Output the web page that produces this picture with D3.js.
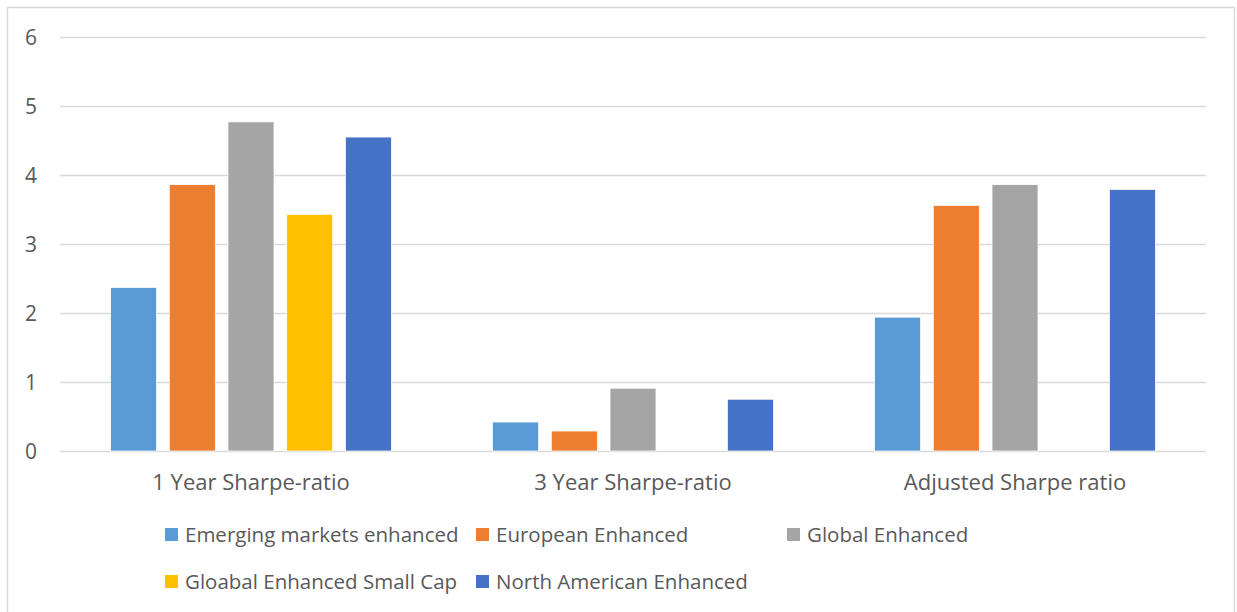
<!DOCTYPE html>
<html>
<head>
<meta charset="utf-8">
<script src="https://cdn.jsdelivr.net/npm/d3@7"></script>
<style>
  html, body { margin: 0; padding: 0; background: #fff; }
  svg { display: block; }
  text { font-family: "Open Sans", Lato, sans-serif; fill: #595959; }
</style>
</head>
<body>
<svg id="chart" width="1237" height="612"></svg>
<script>
// Sharpe-ratio comparison of enhanced index funds
const categories = ["1 Year Sharpe-ratio", "3 Year Sharpe-ratio", "Adjusted Sharpe ratio"];
const seriesNames = [
  "Emerging markets enhanced",
  "European Enhanced",
  "Global Enhanced",
  "Gloabal Enhanced Small Cap",
  "North American Enhanced"
];
const emergingValues   = [2.37, 0.42, 1.94];
const europeanValues   = [3.86, 0.29, 3.56];
const globalValues     = [4.77, 0.91, 3.86];
const smallCapValues   = [3.43, null, null];
const northAmValues    = [4.55, 0.75, 3.79];
const yTicks = [0, 1, 2, 3, 4, 5, 6];
const colors = ["#5B9BD5", "#ED7D31", "#A5A5A5", "#FFC000", "#4472C4"];

const seriesValues = [emergingValues, europeanValues, globalValues, smallCapValues, northAmValues];

const svg = d3.select("#chart");

// outer chart frame
svg.append("rect")
  .attr("x", 7.5).attr("y", 7.5)
  .attr("width", 1227).attr("height", 640)
  .attr("fill", "#fff")
  .attr("stroke", "#D9D9D9").attr("stroke-width", 1.5);

const plot = { left: 60, right: 1206, top: 37, bottom: 451 };

const y = d3.scaleLinear().domain([0, 6]).range([plot.bottom, plot.top]);
const x0 = d3.scaleBand().domain(categories).range([plot.left, plot.right]).padding(0);
const x1 = d3.scaleBand().domain(seriesNames).range([0, x0.bandwidth()])
  .paddingInner(0.216).paddingOuter(0.862);

// horizontal gridlines and value labels
const yAxis = d3.axisLeft(y).tickValues(yTicks).tickSize(-(plot.right - plot.left)).tickPadding(23)
  .tickFormat(d3.format("d"));
const gy = svg.append("g").attr("transform", `translate(${plot.left},0)`).call(yAxis);
gy.select(".domain").remove();
gy.selectAll(".tick line").attr("stroke", "#D9D9D9").attr("stroke-width", 1.5);
gy.selectAll(".tick text")
  .attr("fill", "#595959").style("font-size", "21px")
  .attr("dy", "0.36em");

// bars
const groups = svg.append("g").selectAll("g")
  .data(categories)
  .join("g")
  .attr("transform", d => `translate(${x0(d)},0)`);

groups.selectAll("rect")
  .data((c, ci) => seriesNames.map((s, si) => ({ series: s, value: seriesValues[si][ci], color: colors[si] }))
    .filter(d => d.value !== null))
  .join("rect")
  .attr("x", d => x1(d.series))
  .attr("width", x1.bandwidth())
  .attr("y", d => y(d.value))
  .attr("height", d => y(0) - y(d.value))
  .attr("fill", d => d.color)
  .attr("stroke", "#fff").attr("stroke-width", 0.75);

// category labels
const xAxis = d3.axisBottom(x0).tickSize(0).tickPadding(23);
const gx = svg.append("g").attr("transform", `translate(0,${plot.bottom})`).call(xAxis);
gx.select(".domain").remove();
gx.selectAll(".tick text").attr("fill", "#595959").style("font-size", "22px");

// legend
const legendCols = [165, 476, 787];
const legendRows = [528, 575];
const legend = svg.append("g");
seriesNames.forEach((name, i) => {
  const cx = legendCols[i % 3];
  const cy = legendRows[Math.floor(i / 3)];
  legend.append("rect")
    .attr("x", cx).attr("y", cy)
    .attr("width", 13).attr("height", 13)
    .attr("fill", colors[i]);
  legend.append("text")
    .attr("x", cx + 20).attr("y", cy + 14)
    .style("font-size", "20.5px")
    .text(name);
});
</script>
</body>
</html>
